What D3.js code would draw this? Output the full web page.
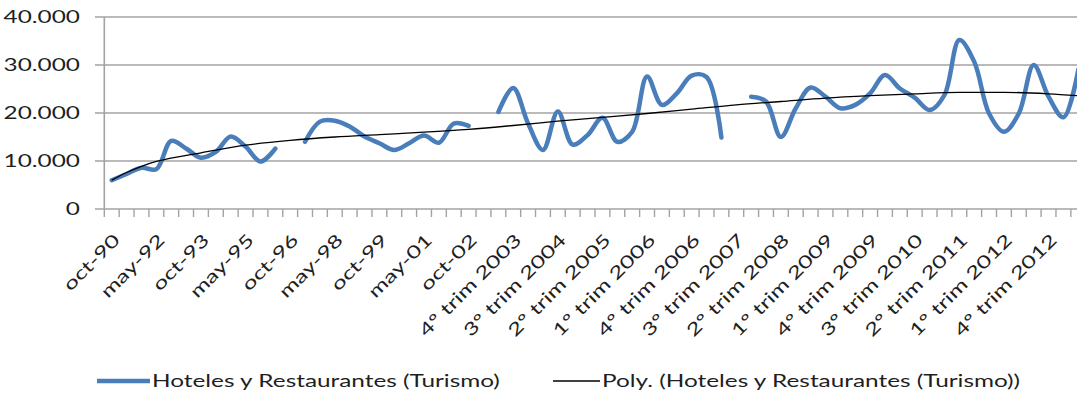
<!DOCTYPE html>
<html>
<head>
<meta charset="utf-8">
<script src="https://cdn.jsdelivr.net/npm/d3@7"></script>
<style>
  html, body { margin: 0; padding: 0; background: #fff; overflow: hidden; }
  svg { display: block; }
  text { font-family: Lato, "Open Sans", sans-serif; fill: #1f1f1f; }
</style>
</head>
<body>
<svg id="chart" width="1077" height="393"></svg>
<script>
// ---- data ----
const categories = [
  "oct-90","may-91","oct-91","may-92","oct-92","may-93","oct-93","may-94","oct-94","may-95",
  "oct-95","may-96","oct-96","may-97","oct-97","may-98","oct-98","may-99","oct-99","may-00",
  "oct-00","may-01","oct-01","may-02","oct-02","2º trim 2003","3º trim 2003","4º trim 2003",
  "1º trim 2004","2º trim 2004","3º trim 2004","4º trim 2004",
  "1º trim 2005","2º trim 2005","3º trim 2005","4º trim 2005",
  "1º trim 2006","2º trim 2006","3º trim 2006","4º trim 2006",
  "1º trim 2007","2º trim 2007","3º trim 2007","4º trim 2007",
  "1º trim 2008","2º trim 2008","3º trim 2008","4º trim 2008",
  "1º trim 2009","2º trim 2009","3º trim 2009","4º trim 2009",
  "1º trim 2010","2º trim 2010","3º trim 2010","4º trim 2010",
  "1º trim 2011","2º trim 2011","3º trim 2011","4º trim 2011",
  "1º trim 2012","2º trim 2012","3º trim 2012","4º trim 2012",
  "1º trim 2013","2º trim 2013"
];
const turismo = [
  6000,7300,8600,8300,14200,12600,10700,11900,15100,13000,9900,12600,null,
  14000,18200,18400,17200,15100,13700,12300,13700,15300,13800,17800,17300,null,
  20200,25200,17800,12300,20300,13400,15400,19000,14000,16100,27600,21700,24100,27800,27500,14900,null,
  23400,22400,15000,21000,25300,23400,21000,21700,24100,27900,25100,23200,20600,23750,35200,30700,
  19900,16100,19900,30000,23400,19100,29000
];
// polynomial trend line, read at selected categories
const trendCategories = ["oct-90","may-91","oct-91","may-92","oct-93","may-95","oct-96","may-98","oct-99",
  "may-01","oct-02","4º trim 2003","3º trim 2004","2º trim 2005","1º trim 2006","4º trim 2006",
  "3º trim 2007","2º trim 2008","1º trim 2009","4º trim 2009","3º trim 2010","2º trim 2011",
  "1º trim 2012","4º trim 2012","2º trim 2013"];
const trendValues = [6000,7600,8900,9900,11700,13300,14300,15000,15500,16000,16600,17400,18300,19100,
  19900,20800,21700,22400,23100,23600,24000,24300,24300,24000,23600];
const yTicks = [0, 10000, 20000, 30000, 40000];
const yTickLabels = ["0", "10.000", "20.000", "30.000", "40.000"];
const seriesName = "Hoteles y Restaurantes (Turismo)";
const trendName = "Poly. (Hoteles y Restaurantes (Turismo))";

// ---- layout ----
const svg = d3.select("#chart");
const left = 104.3, step = 14.87;
const x = d3.scaleBand().domain(categories).range([left, left + step * categories.length]).padding(0);
const cx = c => x(c) + x.bandwidth() / 2;
const y = d3.scaleLinear().domain([0, 40000]).range([209, 17]);
const gridColor = "#a3a3a3";
const fontSize = 17.5;

// gridlines
svg.append("g").selectAll("line").data(yTicks).join("line")
  .attr("x1", 95).attr("x2", left + step * categories.length)
  .attr("y1", d => y(d)).attr("y2", d => y(d))
  .attr("stroke", gridColor).attr("stroke-width", 1.6);
// y axis line
svg.append("line").attr("x1", left).attr("x2", left).attr("y1", y(40000)).attr("y2", y(0))
  .attr("stroke", gridColor).attr("stroke-width", 1.6);
// x tick marks at band boundaries
const bounds = categories.map(c => x(c)).concat([x(categories[categories.length - 1]) + step]);
svg.append("g").selectAll("line").data(bounds).join("line")
  .attr("x1", d => d).attr("x2", d => d).attr("y1", y(0)).attr("y2", y(0) + 8)
  .attr("stroke", gridColor).attr("stroke-width", 1.4);

// legend first, to measure the stretch factor
const leg = svg.append("g");
leg.append("line").attr("x1", 97).attr("x2", 150).attr("y1", 381).attr("y2", 381)
  .attr("stroke", "#4a7ebb").attr("stroke-width", 4.5);
const t1 = leg.append("text").attr("font-size", fontSize).attr("dy", "0.35em").text(seriesName);
leg.append("line").attr("x1", 553).attr("x2", 600).attr("y1", 381).attr("y2", 381)
  .attr("stroke", "#000").attr("stroke-width", 1.3);
const t2 = leg.append("text").attr("font-size", fontSize).attr("dy", "0.35em").text(trendName);
const k = 348 / t1.node().getComputedTextLength();
t1.attr("transform", `translate(152,381) scale(${k},1)`);
t2.attr("transform", `translate(602,381) scale(${k},1)`);

// y labels
svg.append("g").selectAll("text").data(yTicks).join("text")
  .attr("transform", d => `translate(80,${y(d)}) scale(${k},1)`)
  .attr("text-anchor", "end").attr("dy", "0.35em").attr("font-size", fontSize)
  .text((d, i) => yTickLabels[i]);

// x labels every 3rd category
svg.append("g").selectAll("text").data(categories.filter((c, i) => i % 3 === 0)).join("text")
  .attr("transform", c => `translate(${cx(c) + 5},237) rotate(-45) scale(${k},1)`)
  .attr("text-anchor", "end").attr("dy", "0.35em").attr("font-size", fontSize)
  .text(c => c);

// series line
const pts = categories.map((c, i) => ({ c, v: turismo[i] }));
const line = d3.line().defined(d => d.v != null).x(d => cx(d.c)).y(d => y(d.v))
  .curve(d3.curveCatmullRom.alpha(0.5));
svg.append("path").datum(pts).attr("d", line).attr("fill", "none")
  .attr("stroke", "#4a7ebb").attr("stroke-width", 4.5).attr("stroke-linecap", "round")
  .attr("stroke-linejoin", "round");

// trend line
const tpts = trendCategories.map((c, i) => ({ c, v: trendValues[i] }));
const tline = d3.line().x(d => cx(d.c)).y(d => y(d.v)).curve(d3.curveMonotoneX);
svg.append("path").datum(tpts).attr("d", tline).attr("fill", "none")
  .attr("stroke", "#000").attr("stroke-width", 1.3);
</script>
</body>
</html>
